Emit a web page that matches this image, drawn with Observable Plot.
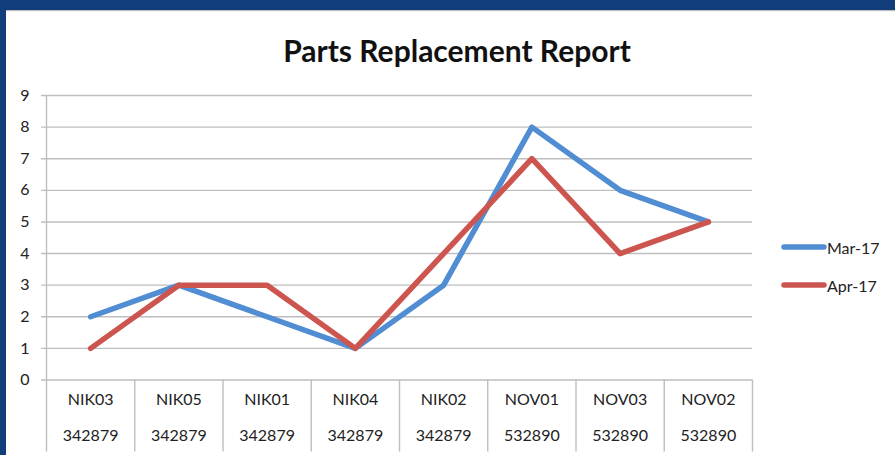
<!DOCTYPE html>
<html>
<head>
<meta charset="utf-8">
<script src="https://cdn.jsdelivr.net/npm/d3@7"></script>
<script src="https://cdn.jsdelivr.net/npm/@observablehq/plot@0.6"></script>
<style>
  html, body { margin: 0; padding: 0; background: #fff; }
  #wrap { position: relative; width: 895px; height: 455px; overflow: hidden; background: #fff; font-family: Lato, "Open Sans", sans-serif; }
  #wrap svg.plot-chart { position: absolute; left: 0; top: 0; }
  .bar-top { position: absolute; left: 0; top: 0; width: 895px; height: 10px; background: #113d7b; box-shadow: 0 1px 1px rgba(0,0,0,0.25); }
  .bar-left { position: absolute; left: 0; top: 0; width: 6px; height: 455px; background: #113d7b; }
  .title { position: absolute; left: 0; width: 914px; top: 31px; text-align: center; font-size: 30px; font-weight: bold; color: #111; line-height: 38px; }
  .legend { position: absolute; left: 781px; top: 236px; font-size: 16px; color: #222; }
  .legend .item { display: flex; align-items: center; height: 22px; margin-bottom: 16px; }
  .legend svg { display: block; }
</style>
</head>
<body>
<div id="wrap"></div>
<script>
// ---- data ----
const categories = ["NIK03", "NIK05", "NIK01", "NIK04", "NIK02", "NOV01", "NOV03", "NOV02"];
const codes = ["342879", "342879", "342879", "342879", "342879", "532890", "532890", "532890"];
const seriesNames = ["Mar-17", "Apr-17"];
const mar17 = [2, 3, 2, 1, 3, 8, 6, 5];
const apr17 = [1, 3, 3, 1, 4, 7, 4, 5];
const yTicks = [0, 1, 2, 3, 4, 5, 6, 7, 8, 9];
const colors = ["#508dd3", "#cd5550"];
const title = "Parts Replacement Report";

// tidy table built from the arrays
const rows = [];
[mar17, apr17].forEach((vals, s) => {
  vals.forEach((v, i) => rows.push({series: seriesNames[s], i, category: categories[i], value: v}));
});
const catIdx = categories.map((c, i) => i);
const boundaries = d3.range(categories.length + 1).map(i => i - 0.5);

const chart = Plot.plot({
  width: 895,
  height: 455,
  marginLeft: 46,
  marginRight: 143,
  marginTop: 95,
  marginBottom: 75.5,
  x: {domain: [-0.5, categories.length - 0.5], axis: null},
  y: {domain: [0, 9], axis: null},
  color: {domain: seriesNames, range: colors},
  style: {fontFamily: "Lato, 'Open Sans', sans-serif", background: "transparent"},
  marks: [
    // horizontal gridlines (with small tick extension on the left)
    Plot.ruleY(yTicks, {y: d => d, stroke: "#bebebe", strokeWidth: 1.4, insetLeft: -5}),
    // vertical axis line
    Plot.ruleX([boundaries[0]], {x: d => d, stroke: "#bebebe", strokeWidth: 1.4}),
    // category table separators below the axis
    Plot.ruleX(boundaries, {x: d => d, y1: 0, y2: -2.28, stroke: "#bebebe", strokeWidth: 1.4}),
    // y tick labels
    Plot.text(yTicks, {y: d => d, text: d => String(d), frameAnchor: "left", dx: -17, textAnchor: "end", fontSize: 16, fill: "#222"}),
    // x labels (two rows)
    Plot.text(catIdx, {x: d => d, text: d => categories[d], frameAnchor: "bottom", dy: 25, fontSize: 16, fill: "#222"}),
    Plot.text(catIdx, {x: d => d, text: d => codes[d], frameAnchor: "bottom", dy: 61, fontSize: 16, fill: "#222"}),
    // series lines
    Plot.line(rows, {x: "i", y: "value", z: "series", stroke: "series", strokeWidth: 5.5, strokeLinejoin: "round", strokeLinecap: "round"})
  ]
});
chart.classList.add("plot-chart");

const wrap = document.getElementById("wrap");
wrap.appendChild(chart);

const t = document.createElement("div");
t.className = "title";
t.textContent = title;
wrap.appendChild(t);

const leg = document.createElement("div");
leg.className = "legend";
seriesNames.forEach((name, k) => {
  const item = document.createElement("div");
  item.className = "item";
  item.innerHTML = `<svg width="46" height="10"><line x1="3" y1="5" x2="43" y2="5" stroke="${colors[k]}" stroke-width="5.5" stroke-linecap="round"/></svg><span>${name}</span>`;
  leg.appendChild(item);
});
wrap.appendChild(leg);

const b1 = document.createElement("div"); b1.className = "bar-top"; wrap.appendChild(b1);
const b2 = document.createElement("div"); b2.className = "bar-left"; wrap.appendChild(b2);
</script>
</body>
</html>
